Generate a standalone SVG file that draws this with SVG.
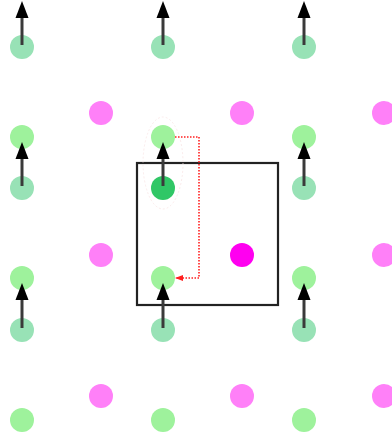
<svg xmlns="http://www.w3.org/2000/svg" width="392" height="441" viewBox="0 0 392 441">
<style>
.lg{fill:#9ef29c}
.tl{fill:#98e2b6}
.dg{fill:#30c766}
.pk{fill:#ff80f8}
.mg{fill:#ff00f0}
.arr{stroke:#3a3a3a;stroke-width:3;fill:none}
.head{fill:#000}
</style>
<defs>
<marker id="rh" markerWidth="8" markerHeight="8" refX="7" refY="4" orient="auto" markerUnits="userSpaceOnUse">
<path d="M0,1 L8,4 L0,7 Z" fill="#ff2020"/>
</marker>
</defs>
<rect width="392" height="441" fill="#fff"/>
<g id="box"><rect x="137" y="163" width="141" height="142" fill="none" stroke="#222" stroke-width="2.2"/></g>
<g id="ellipse"><ellipse cx="163" cy="163" rx="20" ry="46" fill="none" stroke="#f8e2e2" stroke-width="0.7" stroke-dasharray="2 2"/></g>
<g id="nodes">
<g id="t1"><circle class="tl" cx="22" cy="47" r="12"/></g>
<g id="t2"><circle class="tl" cx="163" cy="47" r="12"/></g>
<g id="t3"><circle class="tl" cx="304" cy="47" r="12"/></g>
<g id="p1"><circle class="pk" cx="101" cy="113" r="12"/></g>
<g id="p2"><circle class="pk" cx="242" cy="113" r="12"/></g>
<g id="p3"><circle class="pk" cx="384" cy="113" r="12"/></g>
<g id="g1"><circle class="lg" cx="22" cy="137" r="12"/></g>
<g id="g2"><circle class="lg" cx="163" cy="137" r="12"/></g>
<g id="g3"><circle class="lg" cx="304" cy="137" r="12"/></g>
<g id="t4"><circle class="tl" cx="22" cy="188" r="12"/></g>
<g id="d1"><circle class="dg" cx="163" cy="188" r="12"/></g>
<g id="t5"><circle class="tl" cx="304" cy="188" r="12"/></g>
<g id="p4"><circle class="pk" cx="101" cy="255" r="12"/></g>
<g id="m1"><circle class="mg" cx="242" cy="255" r="12"/></g>
<g id="p5"><circle class="pk" cx="384" cy="255" r="12"/></g>
<g id="g4"><circle class="lg" cx="22" cy="278" r="12"/></g>
<g id="g5"><circle class="lg" cx="163" cy="278" r="12"/></g>
<g id="g6"><circle class="lg" cx="304" cy="278" r="12"/></g>
<g id="t6"><circle class="tl" cx="22" cy="330" r="12"/></g>
<g id="t7"><circle class="tl" cx="163" cy="330" r="12"/></g>
<g id="t8"><circle class="tl" cx="304" cy="330" r="12"/></g>
<g id="p6"><circle class="pk" cx="101" cy="396" r="12"/></g>
<g id="p7"><circle class="pk" cx="242" cy="396" r="12"/></g>
<g id="p8"><circle class="pk" cx="384" cy="396" r="12"/></g>
<g id="g7"><circle class="lg" cx="22" cy="420" r="12"/></g>
<g id="g8"><circle class="lg" cx="163" cy="420" r="12"/></g>
<g id="g9"><circle class="lg" cx="304" cy="420" r="12"/></g>
</g>
<g id="connectors">
<g>
<line class="arr" x1="22" y1="45" x2="22" y2="16"/><path class="head" d="M22,1 L15.5,18 L28.5,18 Z"/>
<line class="arr" x1="163" y1="45" x2="163" y2="16"/><path class="head" d="M163,1 L156.5,18 L169.5,18 Z"/>
<line class="arr" x1="304" y1="45" x2="304" y2="16"/><path class="head" d="M304,1 L297.5,18 L310.5,18 Z"/>
<line class="arr" x1="22" y1="186" x2="22" y2="157"/><path class="head" d="M22,142 L15.5,159 L28.5,159 Z"/>
<line class="arr" x1="163" y1="186" x2="163" y2="157"/><path class="head" d="M163,142 L156.5,159 L169.5,159 Z"/>
<line class="arr" x1="304" y1="186" x2="304" y2="157"/><path class="head" d="M304,142 L297.5,159 L310.5,159 Z"/>
<line class="arr" x1="22" y1="328" x2="22" y2="299"/><path class="head" d="M22,283 L15.5,300 L28.5,300 Z"/>
<line class="arr" x1="163" y1="328" x2="163" y2="299"/><path class="head" d="M163,283 L156.5,300 L169.5,300 Z"/>
<line class="arr" x1="304" y1="328" x2="304" y2="299"/><path class="head" d="M304,283 L297.5,300 L310.5,300 Z"/>
</g>
<path d="M175,137 L199,137 L199,278 L176,278" fill="none" stroke="#ff2020" stroke-width="1.6" stroke-dasharray="1.5 1.5" marker-end="url(#rh)"/>
</g>
</svg>
